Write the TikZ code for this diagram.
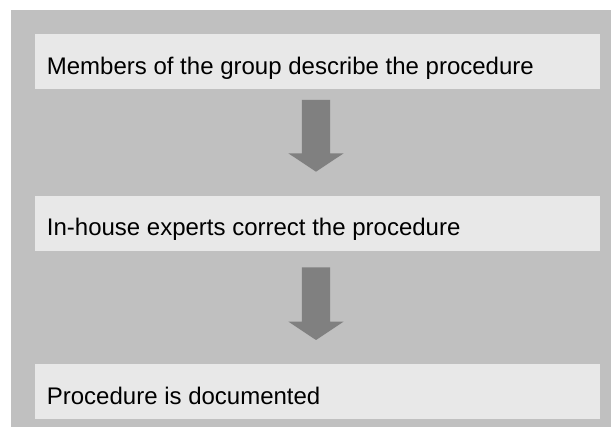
\documentclass[tikz,border=0pt]{standalone}
\usepackage{fontspec}
\setmainfont{Liberation Sans}
\usetikzlibrary{calc, positioning}
\definecolor{panelgray}{RGB}{192,192,192}
\definecolor{boxgray}{RGB}{232,232,232}
\definecolor{arrowgray}{RGB}{128,128,128}
\tikzset{
  stepbox/.style={fill=boxgray, minimum width=565pt, minimum height=55pt, inner sep=0pt},
  steptext/.style={anchor=base west, inner sep=0pt, font=\fontsize{24}{28}\selectfont}
}
\newcommand{\blockarrow}[2]{%
  \fill[arrowgray] ($(#1)+(-14.2,0)$) -- ($(#1)+(14.2,0)$) -- ($(#2)+(14.2,-18.4)$)
    -- ($(#2)+(27.7,-18.4)$) -- (#2) -- ($(#2)+(-27.7,-18.4)$) -- ($(#2)+(-14.2,-18.4)$) -- cycle;}

\begin{document}
\begin{tikzpicture}[x=1pt, y=-1pt]
  \useasboundingbox (0,0) rectangle (611,427);
  \fill[panelgray] (11,10) rectangle (611,427);

  \node[stepbox] (describe) at (317.5,62) {};
  \node[stepbox] (correct) at (317.5,223.5) {};
  \node[stepbox] (documented) at (317.5,391.5) {};

  \node[steptext] (describetext) at (46.7,75) {Members of the group describe the procedure};
  \node[steptext] (correcttext) at (46.7,236) {In-house experts correct the procedure};
  \node[steptext] (documentedtext) at (46.7,404.3) {Procedure is documented};

  \coordinate (arrowAtop) at (316,100);
  \coordinate (arrowAtip) at (316,171.7);
  \coordinate (arrowBtop) at (316,267.3);
  \coordinate (arrowBtip) at (316,340);
  \blockarrow{arrowAtop}{arrowAtip}
  \blockarrow{arrowBtop}{arrowBtip}
\end{tikzpicture}
\end{document}
